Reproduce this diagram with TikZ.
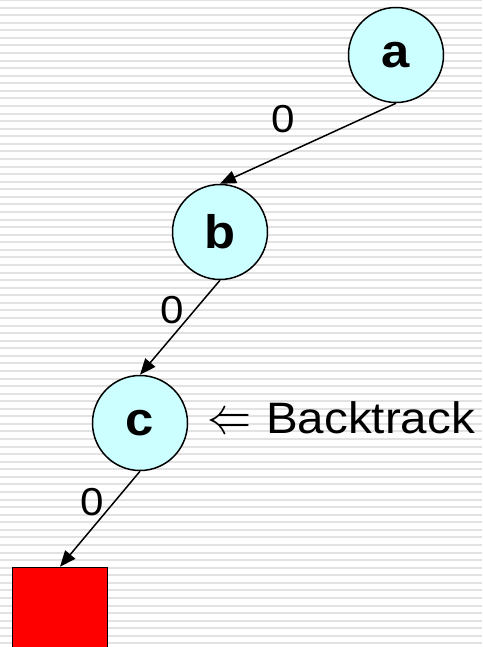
\documentclass[tikz,border=0pt]{standalone}
\usepackage{fontspec}
\setmainfont[FakeStretch=1.08]{Liberation Sans}
\usetikzlibrary{arrows.meta,positioning}
\definecolor{nodecyan}{RGB}{204,255,255}
\definecolor{stripegray}{RGB}{226,226,226}
\definecolor{leafred}{RGB}{255,0,0}

\begin{document}
\begin{tikzpicture}[
    x=1pt, y=-1pt,
    vertex/.style={circle, draw=black, fill=nodecyan, line width=1.5pt, minimum size=95pt, inner sep=0pt, font=\fontsize{47}{47}\selectfont\bfseries},
    leaf/.style={rectangle, draw=black, fill=leafred, line width=1.5pt, minimum width=95pt, minimum height=95pt, inner sep=0pt},
    edge/.style={-{Triangle[length=16pt,width=13pt]}, line width=1.5pt},
    elabel/.style={font=\fontsize{39}{39}\selectfont, inner sep=0pt}
  ]
    % background
    \useasboundingbox (0,0) rectangle (482,647);
    \clip (0,0) rectangle (482,647);
    \fill[white] (0,0) rectangle (482,647);
    \foreach \i in {0,...,86}
      \draw[stripegray, line width=2pt] (0,\i*7.57) -- (482,\i*7.57);

    % search tree
    \node[vertex] (a) at (396,55) {a};
    \node[vertex] (b) at (220,232) {b};
    \node[vertex] (c) at (140,423) {c};
    \node[leaf] (dead) at (60,615) {};

    % branches
    \draw[edge] (a.south) -- (b.north);
    \draw[edge] (b.south) -- (c.north);
    \draw[edge] (c.south) -- (dead.north);

    % branch values
    \node[elabel] (l1) at (283,119) {0};
    \node[elabel] (l2) at (172,310) {0};
    \node[elabel] (l3) at (92,502) {0};

    \node[font=\fontsize{44}{44}\selectfont, anchor=base west, inner sep=0pt] (bt) at (207,433)
      {\scalebox{4.4}[5.2]{\fontsize{10}{12}\selectfont$\Leftarrow$}\hspace{15pt}Backtrack};
  \end{tikzpicture}
\end{document}
